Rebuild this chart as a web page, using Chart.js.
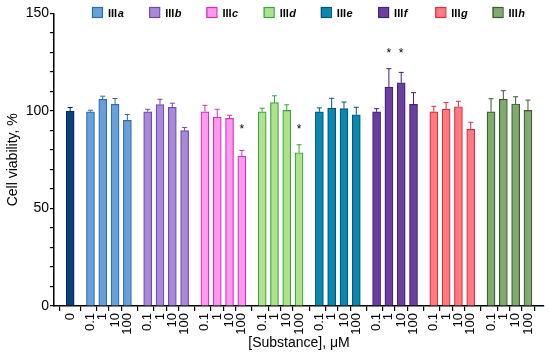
<!DOCTYPE html>
<html><head><meta charset="utf-8">
<script src="https://cdn.jsdelivr.net/npm/chart.js@4"></script>
<style>html,body{margin:0;padding:0;background:#fff}#wrap{width:550px;height:359px;position:relative}</style>
</head><body><div id="wrap"><canvas id="c"></canvas></div>
<script>
// ---- data ----
const compounds = ['IIIa','IIIb','IIIc','IIId','IIIe','IIIf','IIIg','IIIh'];
const doses = ['0.1','1','10','100'];
const controlLabel = '0';
const controlMean = [100];
const controlSem = [1.8];
const meanIIIa = [99.6, 106.0, 103.4, 95.2];
const semIIIa  = [0.8, 1.6, 3.0, 3.0];
const meanIIIb = [99.6, 103.3, 101.9, 89.9];
const semIIIb  = [1.3, 2.7, 2.1, 1.6];
const meanIIIc = [99.6, 96.9, 96.2, 76.8];
const semIIIc  = [3.3, 4.0, 1.6, 3.0];
const meanIIId = [99.6, 104.3, 100.3, 78.6];
const semIIId  = [1.8, 3.5, 2.9, 4.1];
const meanIIIe = [99.6, 101.5, 101.2, 98.1];
const semIIIe  = [2.0, 5.0, 3.4, 3.8];
const meanIIIf = [99.6, 112.3, 114.5, 103.4];
const semIIIf  = [1.6, 9.4, 5.3, 6.0];
const meanIIIg = [99.6, 101.0, 102.2, 90.6];
const semIIIg  = [2.8, 3.3, 2.8, 3.6];
const meanIIIh = [99.6, 106.0, 103.6, 100.3];
const semIIIh  = [6.7, 4.4, 3.7, 5.3];
const yTicks = [0, 50, 100, 150];
// significance marks: [compound index, dose index, height of "*"]
const sigCompound = [2, 3, 5, 5];
const sigDose     = [3, 3, 1, 2];
const sigHeight   = [92, 92, 131, 131];

const allMeans = [meanIIIa, meanIIIb, meanIIIc, meanIIId, meanIIIe, meanIIIf, meanIIIg, meanIIIh];
const allSems  = [semIIIa, semIIIb, semIIIc, semIIId, semIIIe, semIIIf, semIIIg, semIIIh];

// ---- styles ----
const controlFill = '#0b3f7e', controlBorder = '#06295a';
const fills   = ['#6aa0da','#a98ad8','#ff99f0','#aee28e','#0a88b0','#6b3f9e','#ff7b82','#80ab6c'];
const borders = ['#2b6cb5','#7048b0','#d12fc0','#3aa53a','#05557a','#45237a','#d8303f','#3a5a2e'];
const GAP = 1.65, PERIOD = 3 + GAP;
const posOf = (g, d) => GAP + g * PERIOD + d;

const points = [], bg = [], bd = [], sems = [], tickPos = [], tickLab = [];
points.push({x: 0, y: controlMean[0]}); bg.push(controlFill); bd.push(controlBorder); sems.push(controlSem[0]);
tickPos.push(0); tickLab.push(controlLabel);
compounds.forEach((c, g) => {
  doses.forEach((d, i) => {
    points.push({x: posOf(g, i), y: allMeans[g][i]});
    bg.push(fills[g]); bd.push(borders[g]); sems.push(allSems[g][i]);
    tickPos.push(posOf(g, i)); tickLab.push(d);
  });
});

const FONT = "'Liberation Sans', Arial, Helvetica, sans-serif";

const errorBars = {
  id: 'errorBars',
  afterDatasetsDraw(chart) {
    const ctx = chart.ctx, meta = chart.getDatasetMeta(0), ys = chart.scales.y;
    ctx.save();
    meta.data.forEach((bar, i) => {
      const yTop = ys.getPixelForValue(points[i].y);
      const yErr = ys.getPixelForValue(points[i].y + sems[i]);
      ctx.strokeStyle = bd[i]; ctx.lineWidth = 1;
      ctx.beginPath();
      ctx.moveTo(bar.x, yTop); ctx.lineTo(bar.x, yErr);
      ctx.moveTo(bar.x - 2.5, yErr); ctx.lineTo(bar.x + 2.5, yErr);
      ctx.stroke();
    });
    // asterisks
    ctx.fillStyle = '#000'; ctx.font = '12px ' + FONT; ctx.textAlign = 'center'; ctx.textBaseline = 'middle';
    sigCompound.forEach((g, k) => {
      const x = chart.scales.x.getPixelForValue(posOf(g, sigDose[k]));
      const y = ys.getPixelForValue(sigHeight[k]);
      ctx.fillText('*', x, y + 3);
    });
    ctx.restore();
  }
};

const legendPlugin = {
  id: 'customLegend',
  afterDraw(chart) {
    const ctx = chart.ctx, xs = chart.scales.x;
    ctx.save();
    compounds.forEach((c, g) => {
      const x0 = xs.getPixelForValue(posOf(g, 0)) + 1.5;
      const y0 = 7;
      ctx.fillStyle = fills[g]; ctx.strokeStyle = borders[g]; ctx.lineWidth = 1.2;
      ctx.fillRect(x0, y0, 10, 10); ctx.strokeRect(x0 + 0.5, y0 + 0.5, 10, 10);
      ctx.fillStyle = '#000'; ctx.textBaseline = 'alphabetic'; ctx.textAlign = 'left';
      ctx.font = 'bold 11px ' + FONT;
      const base = c.slice(0, 3), suf = c.slice(3);
      ctx.fillText(base, x0 + 16, y0 + 9.5);
      const w = ctx.measureText(base).width;
      ctx.font = 'italic bold 11px ' + FONT;
      ctx.fillText(suf, x0 + 16 + w + 0.5, y0 + 9.5);
    });
    ctx.restore();
  }
};

new Chart(document.getElementById('c'), {
  type: 'bar',
  data: { datasets: [{
    data: points, backgroundColor: bg, borderColor: bd, borderWidth: 1.2,
    barThickness: 8, grouped: false
  }]},
  options: {
    responsive: true, maintainAspectRatio: false, animation: false,
    layout: { padding: { top: 13.5, right: 6, bottom: 3, left: 0 } },
    plugins: { legend: { display: false }, tooltip: { enabled: false } },
    scales: {
      x: {
        type: 'linear', min: -0.71, max: 37.9,
        afterBuildTicks: (s) => { s.ticks = tickPos.map(v => ({ value: v })); },
        afterFit: (s) => { s.height = 50; },
        ticks: { autoSkip: false, minRotation: 90, maxRotation: 90, padding: 2,
          color: '#000', font: { family: FONT, size: 13 },
          callback: (v, i) => tickLab[i] },
        grid: { display: true, drawOnChartArea: false, drawTicks: true, tickLength: 5, color: '#000', lineWidth: 1.2 },
        border: { display: true, color: '#000', width: 1.5 },
        title: { display: true, text: '[Substance], μM', color: '#000', font: { family: FONT, size: 14 }, padding: { top: 0, bottom: 4 } }
      },
      y: {
        min: 0, max: 150,
        afterBuildTicks: (s) => { const t = []; for (let v = 0; v <= 150; v += 10) t.push({ value: v }); s.ticks = t; },
        afterFit: (s) => { s.width = 54; },
        ticks: { autoSkip: false, color: '#000', padding: 1, font: { family: FONT, size: 14 },
          callback: (v) => yTicks.includes(v) ? String(v) : '' },
        grid: { display: true, drawOnChartArea: false, drawTicks: true, tickLength: 4, color: '#000', lineWidth: 1.2 },
        border: { display: true, color: '#000', width: 1.5 },
        title: { display: true, text: 'Cell viability, %', color: '#000', font: { family: FONT, size: 14 }, padding: { top: 5, bottom: 0 } }
      }
    }
  },
  plugins: [errorBars, legendPlugin]
});
</script></body></html>
